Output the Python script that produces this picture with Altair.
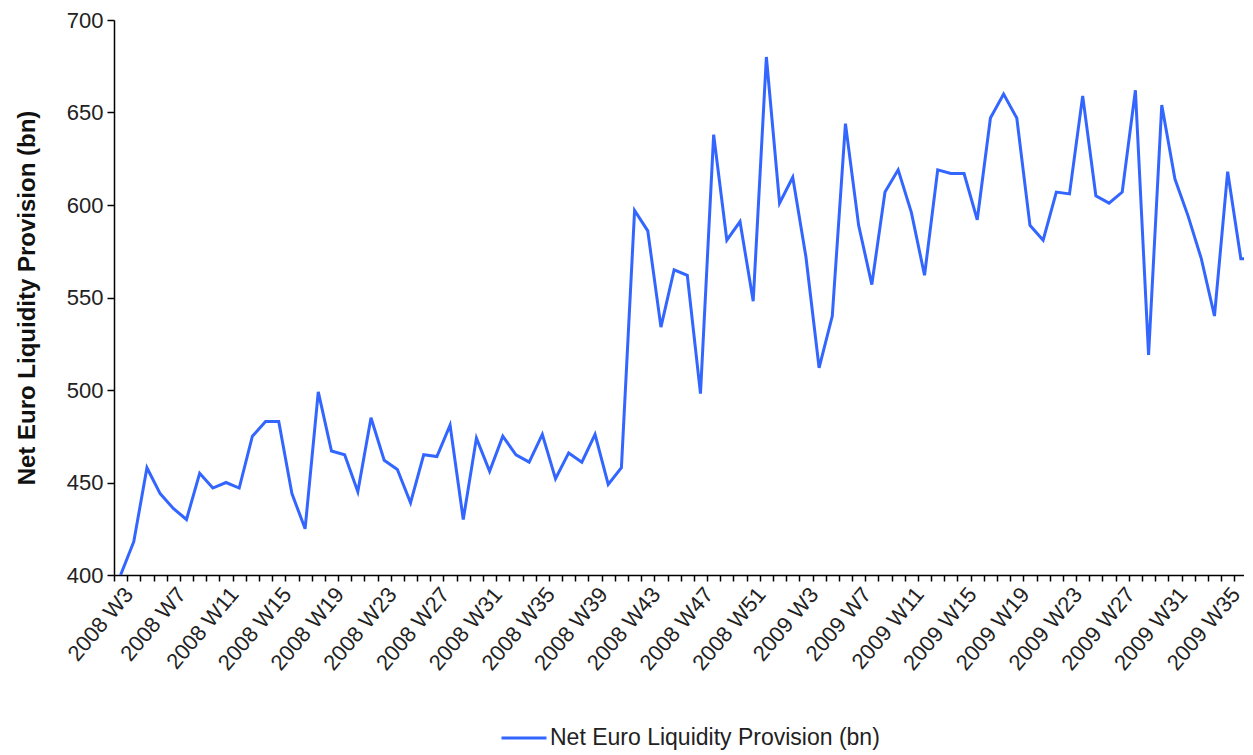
import json
import altair as alt
import pandas as pd

# Weekly categories (2008 W3 .. 2009 W37)
weeks = [f"2008 W{w}" for w in range(3, 53)] + [f"2009 W{w}" for w in range(1, 38)]

# Net Euro Liquidity Provision (bn)
values = [
    400, 418, 458, 444, 436, 430, 455, 447, 450, 447,
    475, 483, 483, 444, 425, 499, 467, 465, 445, 485,
    462, 457, 439, 465, 464, 481, 430, 474, 456, 475,
    465, 461, 476, 452, 466, 461, 476, 449, 458, 597,
    586, 534, 565, 562, 498, 638, 581, 591, 548, 680,
    601, 615, 572, 512, 540, 644, 589, 557, 607, 619,
    596, 562, 619, 617, 617, 592, 647, 660, 647, 589,
    581, 607, 606, 659, 605, 601, 607, 662, 519, 654,
    614, 594, 571, 540, 618, 571, 571,
]

series_name = "Net Euro Liquidity Provision (bn)"
y_ticks = [400, 450, 500, 550, 600, 650, 700]
tick_labels = weeks[::4]

df = pd.DataFrame({
    "idx": list(range(len(values))),
    "week": weeks[: len(values)],
    "value": values,
    "series": [series_name] * len(values),
})

FONT = "Liberation Sans"
boundaries = [k - 0.5 for k in range(86)]
label_expr = (
    "(datum.value + 0.5) % 4 == 0 ? "
    + json.dumps(tick_labels)
    + "[(datum.value + 0.5) / 4] : ''"
)

chart = (
    alt.Chart(df)
    .mark_line(strokeWidth=3, clip=True, interpolate="linear")
    .encode(
        x=alt.X(
            "idx:Q",
            scale=alt.Scale(domain=[-0.5, 85.24], nice=False, zero=False),
            axis=alt.Axis(
                title=None,
                values=boundaries,
                labelExpr=label_expr,
                labelAngle=-50,
                labelAlign="right",
                labelBaseline="middle",
                labelOffset=14.5,
                labelPadding=9,
                labelOverlap=False,
                labelFlush=False,
                labelLimit=0,
                labelFont=FONT,
                labelFontSize=22,
                labelColor="#222222",
                tickSize=6,
                tickColor="#000000",
                tickWidth=1.5,
                domainColor="#000000",
                domainWidth=1.5,
                grid=False,
            ),
        ),
        y=alt.Y(
            "value:Q",
            scale=alt.Scale(domain=[400, 700], nice=False, zero=False),
            axis=alt.Axis(
                title="Net Euro Liquidity Provision (bn)",
                titleFont=FONT,
                titleFontSize=24,
                titleFontWeight="bold",
                titleColor="#111111",
                titleAngle=270,
                titleX=-87,
                titleY=277.5,
                titleAlign="center",
                titleBaseline="middle",
                values=y_ticks,
                labelFont=FONT,
                labelFontSize=22,
                labelColor="#222222",
                labelPadding=4,
                tickSize=7,
                tickColor="#000000",
                tickWidth=1.5,
                domainColor="#000000",
                domainWidth=1.5,
                grid=False,
            ),
        ),
        color=alt.Color(
            "series:N",
            scale=alt.Scale(domain=[series_name], range=["#3366FF"]),
            legend=alt.Legend(
                title=None,
                orient="none",
                legendX=386,
                legendY=694,
                direction="horizontal",
                symbolType="stroke",
                symbolSize=2025,
                symbolStrokeWidth=3,
                symbolStrokeColor="#3366FF",
                symbolOpacity=1,
                labelFont=FONT,
                labelFontSize=23,
                labelColor="#222222",
                labelLimit=0,
                labelOffset=2,
                padding=0,
            ),
        ),
    )
    .properties(
        width=1130,
        height=555,
        padding={"left": 106, "top": 12, "right": 0, "bottom": 181},
        autosize=alt.AutoSizeParams(type="none"),
    )
    .configure(background="white")
    .configure_view(stroke=None)
)

chart.save("out.html", embed_options={"renderer": "svg", "actions": False})
